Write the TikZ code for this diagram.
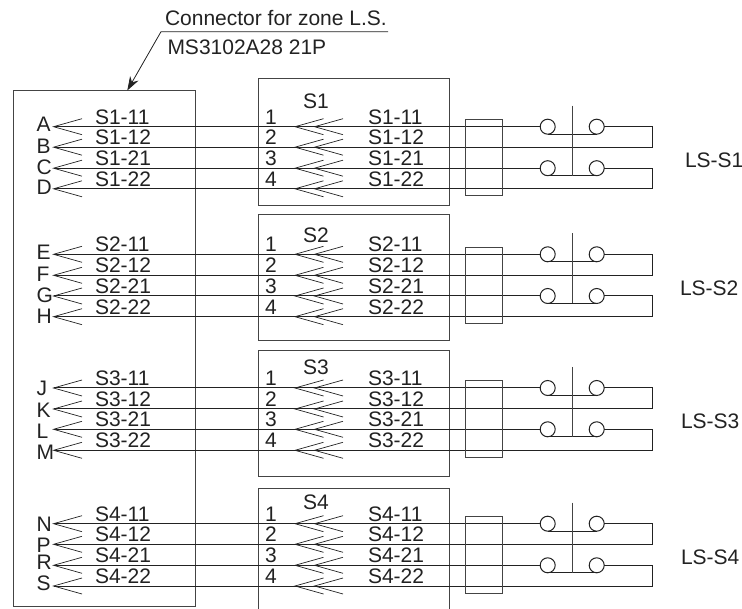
\documentclass[tikz,border=0pt]{standalone}
\usepackage{fontspec}
\setmainfont{Liberation Sans}
\usetikzlibrary{arrows.meta}
\definecolor{ink}{HTML}{222222}
\definecolor{edge}{HTML}{444444}
\tikzset{
  lbl/.style={anchor=base west,inner sep=0pt,outer sep=0pt,text=ink,font=\fontsize{21}{22}\selectfont},
  wire/.style={draw=ink,line width=1pt},
  thin line/.style={draw=ink,line width=0.7pt},
  boxline/.style={draw=edge,line width=1pt},
  contact/.style={circle,draw=ink,line width=1pt,minimum size=15pt,inner sep=0pt,outer sep=0pt},
}
\newcommand{\chev}[1]{\draw[thin line] (#1) ++(28.5,-8) -- (#1) -- ++(28.5,8);}
\newcommand{\wireset}[9]{%
  % #1 group; #2-#5 wire y; #6 title base; #7 rect top; #8 rect bottom; #9 LS label x
  \coordinate (t#11) at (53.5,#2); \coordinate (t#12) at (53.5,#3);
  \coordinate (t#13) at (53.5,#4); \coordinate (t#14) at (53.5,#5);
  \coordinate (e#11) at (652.7,#2); \coordinate (e#12) at (652.7,#3);
  \coordinate (e#13) at (652.7,#4); \coordinate (e#14) at (652.7,#5);
  \node[contact] (a#11) at (547.7,#2) {}; \node[contact] (b#11) at (596.7,#2) {};
  \node[contact] (a#13) at (547.7,#4) {}; \node[contact] (b#13) at (596.7,#4) {};
  \draw[wire] (t#11) -- (a#11.west); \draw[wire] (b#11.east) -- (e#11) -- (e#12) -- (t#12);
  \draw[wire] (t#13) -- (a#13.west); \draw[wire] (b#13.east) -- (e#13) -- (e#14) -- (t#14);
  \draw[wire] (a#11.south) -- (b#11.south); \draw[wire] (a#13.south) -- (b#13.south);
  \coordinate (top#1) at (572,#2-21);
  \coordinate (bot#1) at (572,#4+7.5);
  \draw[boxline] (top#1) -- (bot#1);
  \node[boxline,minimum width=36.6pt,minimum height=#8pt-#7pt,inner sep=0pt,outer sep=0pt] (rect#1) at (484,{(#7+#8)/2}) {};
  \foreach \r/\y/\n in {1/#2/1,2/#3/2,3/#4/3,4/#5/4}{
    \chev{t#1\r}
    \coordinate (p#1\r) at (295,\y); \chev{p#1\r}
    \coordinate (q#1\r) at (314.5,\y); \chev{q#1\r}
    \node[lbl] (num#1\r) at (265,\y-2.5) {\n};
  }
  \foreach \r/\y/\n in {1/#2/11,2/#3/12,3/#4/21,4/#5/22}{
    \node[lbl] (la#1\r) at (95,\y-2.5) {S#1-\n};
    \node[lbl] (lb#1\r) at (368,\y-2.5) {S#1-\n};
  }
  \node[lbl] (title#1) at (303,#6) {S#1};
  \node[lbl] (ls#1) at (#9,#4-0.5) {LS-S#1};
}
\begin{document}
\begin{tikzpicture}[x=1pt,y=-1pt]
\useasboundingbox (0,0) rectangle (742,609);
% main connector box
\node[boxline,minimum width=182pt,minimum height=516pt,inner sep=0pt,outer sep=0pt] (conn) at (104,348.7) {};
% terminal boxes
\node[boxline,minimum width=191.3pt,minimum height=126.7pt,inner sep=0pt,outer sep=0pt] (box1) at (353.7,141.7) {};
\node[boxline,minimum width=191.3pt,minimum height=126.3pt,inner sep=0pt,outer sep=0pt] (box2) at (353.7,277.2) {};
\node[boxline,minimum width=191.3pt,minimum height=126.3pt,inner sep=0pt,outer sep=0pt] (box3) at (353.7,413.8) {};
\coordinate (b4a) at (258,609); \coordinate (b4b) at (258,488.7);
\coordinate (b4c) at (449.3,488.7); \coordinate (b4d) at (449.3,609);
\draw[boxline] (b4a) -- (b4b) -- (b4c) -- (b4d);
% wire groups
\wireset{1}{126.7}{147.2}{168.2}{188.8}{108.3}{119.7}{196}{685}
\wireset{2}{254.3}{275.3}{296}{316.7}{242.3}{247.3}{324}{680}
\wireset{3}{388}{409}{429.3}{450.3}{374.3}{380.7}{458}{681}
\wireset{4}{523.7}{544.3}{565.3}{586}{510}{516.7}{593}{681}
% pin letters
\foreach \l/\y in {A/131.7,B/153.3,C/174.3,D/195,E/260,F/281.7,G/302.3,H/324,J/396,K/417.7,L/438.5,M/459.3,N/531,P/552,R/569.5,S/590}{
  \node[lbl] (pin\l) at (36.5,\y) {\l};
}
% callout
\node[lbl] (call1) at (165,25.5) {Connector for zone L.S.};
\node[lbl] (call2) at (167.5,55) {MS3102A28 21P};
\coordinate (callend) at (388,31.7);
\coordinate (callknee) at (161,31.7);
\coordinate (calltip) at (127.3,90.5);
\draw[draw=ink,line width=0.8pt,-{Stealth[length=14pt,width=9.5pt]}] (callend) -- (callknee) -- (calltip);
\end{tikzpicture}
\end{document}
